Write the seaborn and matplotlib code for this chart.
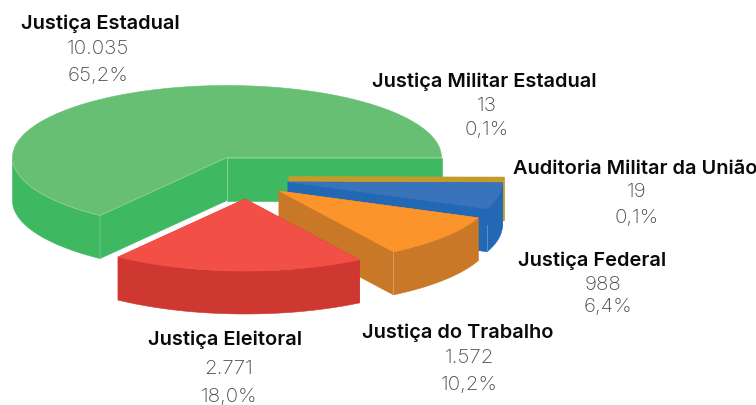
#!/usr/bin/env python3
"""Exploded 3D-style pie of cases per branch of justice."""

import numpy as np
import pandas as pd
import matplotlib
matplotlib.use("Agg")
import matplotlib.pyplot as plt
import seaborn as sns

# slice order runs counter-clockwise from the east edge
branches = ["Justiça Estadual", "Justiça Eleitoral", "Justiça do Trabalho", "Justiça Federal",
            "Auditoria Militar da União", "Justiça Militar Estadual"]
cases = [10035, 2771, 1572, 988, 19, 13]
case_labels = ["10.035", "2.771", "1.572", "988", "19", "13"]
share_labels = ["65,2%", "18,0%", "10,2%", "6,4%", "0,1%", "0,1%"]

top_colors = ["#66BF72", "#F24F46", "#FB952B", "#3873BB", "#C49A2A", "#BDA032"]
wall_colors = ["#3FB862", "#CE3830", "#C87826", "#2268B4", "#C49A2A", "#B9A850"]

# layout, in pixels of the 756x405 canvas
CX, CY, RX, RY, DEPTH = 227, 157.5, 214.5, 72, 43
offsets = [(0, 0), (18, 41.5), (52, 33.5), (61, 24.5), (62, 19.5), (62, 19.5)]
name_pos = [(100, 23.5), (225, 339.5), (458, 332.5), (592, 260.5), (635, 168.5), (484, 81.5)]
count_pos = [(98, 49), (229, 369), (469, 358), (603, 285), (637, 192), (487, 106)]
share_pos = [(98, 76), (229, 397), (469, 385), (608, 307), (637, 218), (487, 130)]

sns.set_theme(style="white")
plt.rcParams["font.family"] = ["Inter", "DejaVu Sans"]

df = pd.DataFrame({"branch": branches, "cases": cases})
df["sweep"] = df["cases"] / df["cases"].sum() * 2 * np.pi
df["end"] = df["sweep"].cumsum()
df["start"] = df["end"] - df["sweep"]


def near_stretch(t):
    # the near half of the disc looks a bit wider, as with a perspective view
    if t <= np.pi:
        return t
    return t + np.radians(4.1) * (np.cos(t) + 0.31) * abs(np.sin(t))


df["start"] = df["start"].map(near_stretch)
df["end"] = df["end"].map(near_stretch)


def arc(t0, t1, ox, oy, n=80):
    t = np.linspace(t0, t1, n)
    return np.column_stack([CX + ox + RX * np.cos(t), CY + oy - RY * np.sin(t)])


def draw_slice(ax, t0, t1, ox, oy, top, wall):
    apex = np.array([CX + ox, CY + oy])
    down = np.array([0, DEPTH])

    # radial walls first, then the rim, then the top face
    for t in (t0, t1):
        tip = arc(t, t, ox, oy, 2)[0]
        ax.fill(*np.array([apex, tip, tip + down, apex + down]).T, color=wall, lw=0.4)
    v0, v1 = max(t0, np.pi), t1
    if v1 > v0:
        rim = arc(v0, v1, ox, oy)
        ax.fill(*np.vstack([rim, (rim + down)[::-1]]).T, color=wall, lw=0.4)
    face = np.vstack([apex, arc(t0, t1, ox, oy)])
    ax.fill(*face.T, color=top, lw=0.4)
    return apex, down


fig = plt.figure(figsize=(7.56, 4.05), dpi=100)
ax = fig.add_axes([0, 0, 1, 1])
edge = dict(color="white", alpha=0.28, lw=0.6, zorder=3)

# back to front
for i in [0, 5, 4, 3, 2, 1]:
    r = df.iloc[i]
    ox, oy = offsets[i]
    apex, down = draw_slice(ax, r["start"], r["end"], ox, oy, top_colors[i], wall_colors[i])
    if i == 0:
        tip = arc(r["end"], r["end"], ox, oy, 2)[0]
        ax.plot(*np.array([apex, tip, tip + down]).T, **edge)
        ax.plot(*np.array([apex, apex + down]).T, **edge)
        ax.plot(*arc(np.pi, r["end"], ox, oy).T, **edge)
    elif i in (2, 3):
        tip = arc(r["start"], r["start"], ox, oy, 2)[0]
        hi = tip + (0, 16) if i == 3 else tip
        ax.plot(*np.array([hi, tip + down]).T, **edge)

for i, name in enumerate(branches):
    ax.text(*name_pos[i], name, ha="center", va="center", fontsize=14.4, fontweight="semibold", color="#0A0A0A")
    ax.text(*count_pos[i], case_labels[i], ha="center", va="center", fontsize=14.8, fontweight="light", color="#4A4A4A")
    ax.text(*share_pos[i], share_labels[i], ha="center", va="center", fontsize=14.8, fontweight="light", color="#4A4A4A")

ax.set_xlim(0, 756)
ax.set_ylim(405, 0)
ax.axis("off")

fig.savefig("out.png", dpi=100, facecolor="white")
plt.close(fig)
